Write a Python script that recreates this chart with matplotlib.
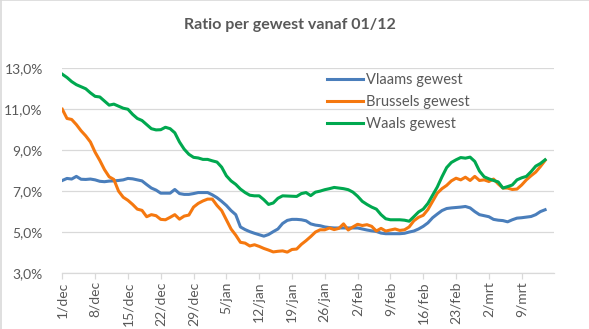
import matplotlib
matplotlib.use("Agg")
import matplotlib.pyplot as plt
from matplotlib.lines import Line2D

plt.rcParams['font.family'] = ['Lato', 'DejaVu Sans']

# Daily values from 1/dec (index 0) onward, in percent
vlaams = [7.52, 7.62, 7.59, 7.72, 7.58, 7.57, 7.59, 7.55, 7.48, 7.46,
          7.49, 7.50, 7.52, 7.55, 7.62, 7.60, 7.55, 7.50, 7.32, 7.15,
          7.05, 6.90, 6.90, 6.90, 7.08, 6.88, 6.84, 6.84, 6.88, 6.93,
          6.93, 6.93, 6.82, 6.68, 6.50, 6.30, 6.05, 5.85, 5.25, 5.12,
          5.02, 4.94, 4.87, 4.80, 4.88, 5.02, 5.15, 5.42, 5.57, 5.62,
          5.62, 5.60, 5.55, 5.40, 5.34, 5.31, 5.25, 5.22, 5.20, 5.20,
          5.20, 5.20, 5.20, 5.20, 5.15, 5.10, 5.06, 5.03, 4.95, 4.92,
          4.92, 4.92, 4.92, 4.94, 5.00, 5.05, 5.15, 5.28, 5.45, 5.70,
          5.88, 6.05, 6.15, 6.18, 6.20, 6.22, 6.25, 6.18, 6.00, 5.85,
          5.80, 5.75, 5.62, 5.58, 5.56, 5.50, 5.60, 5.68, 5.70, 5.73,
          5.76, 5.85, 6.00, 6.09]

brussels = [11.00, 10.55, 10.50, 10.25, 9.95, 9.70, 9.40, 8.90, 8.50, 8.05,
            7.70, 7.57, 7.00, 6.70, 6.55, 6.35, 6.12, 6.06, 5.75, 5.85,
            5.80, 5.62, 5.60, 5.72, 5.85, 5.63, 5.78, 5.83, 6.22, 6.40,
            6.52, 6.61, 6.61, 6.30, 6.05, 5.60, 5.15, 4.85, 4.50, 4.46,
            4.32, 4.38, 4.30, 4.20, 4.12, 4.03, 4.06, 4.08, 4.02, 4.15,
            4.17, 4.40, 4.58, 4.78, 5.00, 5.11, 5.11, 5.20, 5.12, 5.18,
            5.40, 5.10, 5.25, 5.38, 5.32, 5.36, 5.28, 5.05, 5.18, 5.05,
            5.10, 5.15, 5.08, 5.11, 5.25, 5.55, 5.72, 5.82, 6.10, 6.50,
            6.90, 7.12, 7.28, 7.50, 7.63, 7.55, 7.68, 7.52, 7.72, 7.52,
            7.55, 7.47, 7.59, 7.35, 7.15, 7.15, 7.08, 7.10, 7.30, 7.55,
            7.75, 7.93, 8.20, 8.50]

waals = [12.71, 12.55, 12.35, 12.20, 12.10, 12.00, 11.80, 11.63, 11.60, 11.40,
         11.20, 11.25, 11.15, 11.05, 11.00, 10.75, 10.55, 10.45, 10.25, 10.05,
         9.99, 10.00, 10.12, 10.05, 9.85, 9.40, 9.05, 8.80, 8.65, 8.62,
         8.55, 8.55, 8.48, 8.42, 8.17, 7.75, 7.50, 7.33, 7.10, 6.93,
         6.80, 6.77, 6.77, 6.58, 6.35, 6.42, 6.65, 6.77, 6.76, 6.75,
         6.74, 6.88, 6.93, 6.78, 6.95, 7.00, 7.07, 7.12, 7.18, 7.15,
         7.12, 7.07, 6.95, 6.75, 6.50, 6.35, 6.22, 6.12, 5.85, 5.65,
         5.60, 5.60, 5.60, 5.58, 5.53, 5.75, 5.98, 6.12, 6.40, 6.80,
         7.20, 7.70, 8.15, 8.40, 8.53, 8.64, 8.61, 8.66, 8.45, 7.98,
         7.70, 7.60, 7.52, 7.45, 7.15, 7.22, 7.30, 7.55, 7.65, 7.72,
         7.95, 8.22, 8.35, 8.53]

series_names = ['Vlaams gewest', 'Brussels gewest', 'Waals gewest']
tick_labels = ['1/dec', '8/dec', '15/dec', '22/dec', '29/dec', '5/jan', '12/jan',
               '19/jan', '26/jan', '2/feb', '9/feb', '16/feb', '23/feb',
               '2/mrt', '9/mrt']
y_ticks = [3, 5, 7, 9, 11, 13]
y_tick_labels = ['3,0%', '5,0%', '7,0%', '9,0%', '11,0%', '13,0%']

colors = ['#4A7EBB', '#F5780F', '#00A84F']
txt = '#595959'

fig = plt.figure(figsize=(5.89, 3.29), dpi=100)
ax = fig.add_axes([62.3 / 589, 1 - 273 / 329, (554 - 62.3) / 589, (273 - 68.3) / 329])

for vals, name, c in zip([vlaams, brussels, waals], series_names, colors):
    ax.plot(range(len(vals)), vals, color=c, lw=2.2, label=name,
            solid_joinstyle='round', zorder=3)

ax.set_xlim(0, 104.9)
ax.set_ylim(3, 13)
ax.set_yticks(y_ticks)
ax.set_yticklabels(y_tick_labels)
ax.set_xticks(range(0, 7 * len(tick_labels), 7))
ax.set_xticklabels(tick_labels, rotation=90)

ax.grid(axis='y', color='#D9D9D9', lw=0.9, zorder=0)
for s in ['top', 'right', 'left']:
    ax.spines[s].set_visible(False)
ax.spines['bottom'].set_color('#D9D9D9')
ax.spines['bottom'].set_linewidth(0.9)
ax.tick_params(axis='x', length=4, color='#D9D9D9', width=0.9,
               labelsize=10, labelcolor=txt, pad=2)
ax.tick_params(axis='y', length=0, labelsize=10, labelcolor=txt, pad=14)

leg = ax.legend(loc='upper left', bbox_to_anchor=((317 - 62.3) / (554 - 62.3), 1.026),
                frameon=False, fontsize=10.5, handlelength=2.45, handletextpad=0.2,
                labelspacing=0.55, borderaxespad=0.3)
for t in leg.get_texts():
    t.set_color(txt)

fig.text(290 / 589, 1 - 25 / 329, 'Ratio per gewest vanaf 01/12', ha='center',
         va='center', fontsize=11.5, fontweight='bold', color=txt)

# light chart border on top and left
fig.add_artist(Line2D([0, 1], [0.999, 0.999], color='#D9D9D9', lw=1.2,
                      transform=fig.transFigure))
fig.add_artist(Line2D([0.001, 0.001], [0, 1], color='#D9D9D9', lw=1.2,
                      transform=fig.transFigure))

fig.savefig('out.png', dpi=100)
